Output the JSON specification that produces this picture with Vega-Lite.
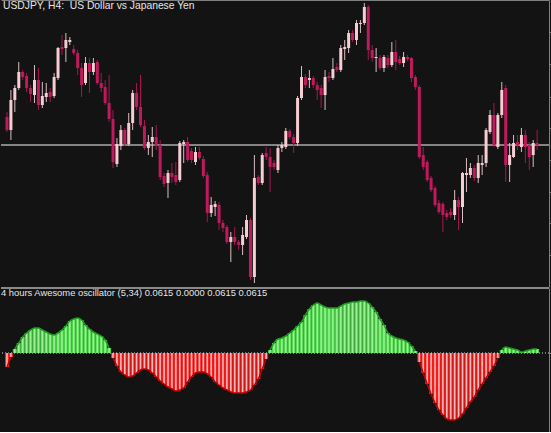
{
"$schema": "https://vega.github.io/schema/vega-lite/v6.json",
"background": "#131313",
"padding": 0,
"spacing": 0,
"config": {
  "view": {"stroke": null},
  "concat": {"spacing": 0},
  "axis": {"grid": false, "labels": false, "ticks": false, "title": null, "domainColor": "#7f7f7f", "domainWidth": 1},
  "title": {"anchor": "start", "color": "#e6e6e6", "fontWeight": "normal", "font": "Liberation Sans", "fontSize": 10, "baseline": "alphabetic", "offset": -11, "frame": "group"}
},
"datasets": {
"candles": [
{"i":0,"o":183,"h":188,"l":168,"c":170},{"i":1,"o":170,"h":210,"l":160,"c":200},{"i":2,"o":200,"h":215,"l":188,"c":212},{"i":3,"o":212,"h":238,"l":210,"c":228},{"i":4,"o":228,"h":230,"l":220,"c":223},{"i":5,"o":224,"h":227,"l":208,"c":212},{"i":6,"o":212,"h":215,"l":198,"c":206},{"i":7,"o":205,"h":235,"l":197,"c":220},{"i":8,"o":220,"h":232,"l":190,"c":195},{"i":9,"o":195,"h":218,"l":192,"c":204},
{"i":10,"o":203,"h":217,"l":198,"c":207},{"i":11,"o":208,"h":212,"l":198,"c":203},{"i":12,"o":204,"h":227,"l":202,"c":223},{"i":13,"o":222,"h":253,"l":220,"c":252},{"i":14,"o":253,"h":265,"l":245,"c":251},{"i":15,"o":252,"h":267,"l":238,"c":260},{"i":16,"o":258,"h":263,"l":255,"c":260},{"i":17,"o":251,"h":255,"l":245,"c":247},{"i":18,"o":247,"h":250,"l":225,"c":232},{"i":19,"o":232,"h":237,"l":203,"c":215},
{"i":20,"o":217,"h":243,"l":215,"c":237},{"i":21,"o":237,"h":242,"l":207,"c":228},{"i":22,"o":228,"h":242,"l":225,"c":237},{"i":23,"o":238,"h":240,"l":215,"c":217},{"i":24,"o":217,"h":227,"l":208,"c":212},{"i":25,"o":213,"h":220,"l":195,"c":197},{"i":26,"o":197,"h":225,"l":178,"c":181},{"i":27,"o":181,"h":190,"l":132,"c":138},{"i":28,"o":136,"h":162,"l":133,"c":156},{"i":29,"o":154,"h":175,"l":150,"c":170},
{"i":30,"o":170,"h":172,"l":154,"c":156},{"i":31,"o":156,"h":187,"l":154,"c":177},{"i":32,"o":177,"h":210,"l":170,"c":207},{"i":33,"o":207,"h":217,"l":190,"c":193},{"i":34,"o":193,"h":225,"l":173,"c":175},{"i":35,"o":174,"h":180,"l":150,"c":152},{"i":36,"o":152,"h":165,"l":145,"c":158},{"i":37,"o":158,"h":173,"l":143,"c":163},{"i":38,"o":163,"h":175,"l":150,"c":154},{"i":39,"o":155,"h":160,"l":120,"c":123},
{"i":40,"o":124,"h":127,"l":113,"c":116},{"i":41,"o":117,"h":130,"l":102,"c":127},{"i":42,"o":127,"h":137,"l":117,"c":123},{"i":43,"o":125,"h":138,"l":115,"c":118},{"i":44,"o":120,"h":159,"l":118,"c":157},{"i":45,"o":156,"h":160,"l":137,"c":158},{"i":46,"o":158,"h":163,"l":138,"c":140},{"i":47,"o":149,"h":152,"l":137,"c":140},{"i":48,"o":138,"h":153,"l":135,"c":148},{"i":49,"o":148,"h":153,"l":140,"c":142},
{"i":50,"o":141,"h":144,"l":122,"c":124},{"i":51,"o":125,"h":128,"l":78,"c":87},{"i":52,"o":87,"h":103,"l":83,"c":95},{"i":53,"o":93,"h":99,"l":84,"c":96},{"i":54,"o":95,"h":98,"l":70,"c":77},{"i":55,"o":77,"h":80,"l":68,"c":72},{"i":56,"o":73,"h":75,"l":56,"c":58},{"i":57,"o":58,"h":68,"l":38,"c":63},{"i":58,"o":63,"h":73,"l":55,"c":58},{"i":59,"o":58,"h":60,"l":50,"c":55},
{"i":60,"o":55,"h":73,"l":45,"c":65},{"i":61,"o":63,"h":85,"l":61,"c":80},{"i":62,"o":80,"h":82,"l":20,"c":23},{"i":63,"o":23,"h":145,"l":17,"c":122},{"i":64,"o":123,"h":125,"l":115,"c":117},{"i":65,"o":117,"h":147,"l":115,"c":145},{"i":66,"o":147,"h":153,"l":140,"c":143},{"i":67,"o":143,"h":152,"l":108,"c":133},{"i":68,"o":137,"h":140,"l":130,"c":133},{"i":69,"o":130,"h":155,"l":127,"c":152},
{"i":70,"o":152,"h":158,"l":148,"c":155},{"i":71,"o":153,"h":172,"l":151,"c":169},{"i":72,"o":169,"h":171,"l":161,"c":163},{"i":73,"o":163,"h":166,"l":147,"c":157},{"i":74,"o":157,"h":204,"l":154,"c":202},{"i":75,"o":202,"h":234,"l":200,"c":223},{"i":76,"o":223,"h":226,"l":212,"c":215},{"i":77,"o":220,"h":230,"l":212,"c":222},{"i":78,"o":222,"h":224,"l":212,"c":215},{"i":79,"o":215,"h":218,"l":200,"c":210},
{"i":80,"o":212,"h":215,"l":192,"c":205},{"i":81,"o":205,"h":230,"l":190,"c":223},{"i":82,"o":224,"h":228,"l":218,"c":222},{"i":83,"o":222,"h":242,"l":220,"c":231},{"i":84,"o":233,"h":237,"l":228,"c":230},{"i":85,"o":230,"h":255,"l":228,"c":252},{"i":86,"o":251,"h":260,"l":240,"c":253},{"i":87,"o":252,"h":270,"l":247,"c":267},{"i":88,"o":267,"h":270,"l":258,"c":260},{"i":89,"o":260,"h":280,"l":255,"c":277},
{"i":90,"o":276,"h":280,"l":267,"c":277},{"i":91,"o":277,"h":297,"l":275,"c":293},{"i":92,"o":293,"h":295,"l":240,"c":250},{"i":93,"o":250,"h":255,"l":238,"c":242},{"i":94,"o":242,"h":252,"l":228,"c":243},{"i":95,"o":242,"h":245,"l":230,"c":232},{"i":96,"o":232,"h":245,"l":228,"c":243},{"i":97,"o":242,"h":245,"l":232,"c":235},{"i":98,"o":235,"h":258,"l":233,"c":248},{"i":99,"o":248,"h":260,"l":230,"c":238},
{"i":100,"o":241,"h":244,"l":235,"c":237},{"i":101,"o":237,"h":248,"l":233,"c":243},{"i":102,"o":243,"h":245,"l":239,"c":241},{"i":103,"o":242,"h":243,"l":218,"c":222},{"i":104,"o":223,"h":225,"l":210,"c":213},{"i":105,"o":213,"h":215,"l":141,"c":143},{"i":106,"o":145,"h":153,"l":130,"c":133},{"i":107,"o":138,"h":140,"l":118,"c":120},{"i":108,"o":122,"h":124,"l":108,"c":110},{"i":109,"o":112,"h":114,"l":93,"c":95},
{"i":110,"o":97,"h":100,"l":86,"c":88},{"i":111,"o":96,"h":98,"l":68,"c":85},{"i":112,"o":87,"h":90,"l":80,"c":83},{"i":113,"o":88,"h":92,"l":82,"c":85},{"i":114,"o":85,"h":110,"l":80,"c":100},{"i":115,"o":100,"h":103,"l":70,"c":93},{"i":116,"o":93,"h":128,"l":77,"c":127},{"i":117,"o":125,"h":142,"l":108,"c":127},{"i":118,"o":125,"h":137,"l":122,"c":132},{"i":119,"o":132,"h":135,"l":119,"c":122},
{"i":120,"o":122,"h":145,"l":117,"c":137},{"i":121,"o":135,"h":145,"l":125,"c":137},{"i":122,"o":137,"h":172,"l":133,"c":170},{"i":123,"o":168,"h":190,"l":166,"c":185},{"i":124,"o":185,"h":197,"l":153,"c":155},{"i":125,"o":153,"h":187,"l":151,"c":185},{"i":126,"o":185,"h":218,"l":182,"c":210},{"i":127,"o":212,"h":215,"l":118,"c":135},{"i":128,"o":135,"h":157,"l":118,"c":145},{"i":129,"o":143,"h":165,"l":142,"c":157},
{"i":130,"o":158,"h":165,"l":150,"c":155},{"i":131,"o":153,"h":172,"l":148,"c":165},{"i":132,"o":165,"h":170,"l":137,"c":153},{"i":133,"o":155,"h":158,"l":130,"c":143},{"i":134,"o":145,"h":160,"l":133,"c":157},{"i":135,"o":157,"h":170,"l":150,"c":155}
],
"ao": [
{"i":0,"v":-14,"s":"a"},{"i":1,"v":-4,"s":"a"},{"i":2,"v":4,"s":"b"},{"i":3,"v":10,"s":"b"},{"i":4,"v":16,"s":"b"},{"i":5,"v":20,"s":"b"},{"i":6,"v":23,"s":"b"},{"i":7,"v":25,"s":"b"},{"i":8,"v":25,"s":"b"},{"i":9,"v":23,"s":"b"},
{"i":10,"v":21,"s":"b"},{"i":11,"v":19,"s":"b"},{"i":12,"v":18,"s":"b"},{"i":13,"v":20,"s":"b"},{"i":14,"v":23,"s":"b"},{"i":15,"v":27,"s":"b"},{"i":16,"v":32,"s":"b"},{"i":17,"v":34,"s":"b"},{"i":18,"v":35,"s":"b"},{"i":19,"v":33,"s":"b"},
{"i":20,"v":28,"s":"b"},{"i":21,"v":24,"s":"b"},{"i":22,"v":21,"s":"b"},{"i":23,"v":19,"s":"b"},{"i":24,"v":17,"s":"b"},{"i":25,"v":13,"s":"b"},{"i":26,"v":5,"s":"b"},{"i":27,"v":-5,"s":"c"},{"i":28,"v":-13,"s":"c"},{"i":29,"v":-19,"s":"c"},
{"i":30,"v":-22,"s":"c"},{"i":31,"v":-24,"s":"c"},{"i":32,"v":-23,"s":"c"},{"i":33,"v":-20,"s":"c"},{"i":34,"v":-17,"s":"c"},{"i":35,"v":-16,"s":"c"},{"i":36,"v":-17,"s":"c"},{"i":37,"v":-20,"s":"c"},{"i":38,"v":-24,"s":"c"},{"i":39,"v":-28,"s":"c"},
{"i":40,"v":-31,"s":"c"},{"i":41,"v":-34,"s":"c"},{"i":42,"v":-36,"s":"c"},{"i":43,"v":-38,"s":"c"},{"i":44,"v":-37,"s":"c"},{"i":45,"v":-35,"s":"c"},{"i":46,"v":-29,"s":"c"},{"i":47,"v":-24,"s":"c"},{"i":48,"v":-20,"s":"c"},{"i":49,"v":-19,"s":"c"},
{"i":50,"v":-19,"s":"c"},{"i":51,"v":-21,"s":"c"},{"i":52,"v":-24,"s":"c"},{"i":53,"v":-29,"s":"c"},{"i":54,"v":-32,"s":"c"},{"i":55,"v":-35,"s":"c"},{"i":56,"v":-37,"s":"c"},{"i":57,"v":-39,"s":"c"},{"i":58,"v":-40,"s":"c"},{"i":59,"v":-40,"s":"c"},
{"i":60,"v":-40,"s":"c"},{"i":61,"v":-39,"s":"c"},{"i":62,"v":-37,"s":"c"},{"i":63,"v":-32,"s":"c"},{"i":64,"v":-26,"s":"c"},{"i":65,"v":-16,"s":"c"},{"i":66,"v":-6,"s":"c"},{"i":67,"v":3,"s":"d"},{"i":68,"v":10,"s":"d"},{"i":69,"v":14,"s":"d"},
{"i":70,"v":15,"s":"d"},{"i":71,"v":17,"s":"d"},{"i":72,"v":20,"s":"d"},{"i":73,"v":23,"s":"d"},{"i":74,"v":27,"s":"d"},{"i":75,"v":31,"s":"d"},{"i":76,"v":38,"s":"d"},{"i":77,"v":44,"s":"d"},{"i":78,"v":48,"s":"d"},{"i":79,"v":50,"s":"d"},
{"i":80,"v":48,"s":"d"},{"i":81,"v":46,"s":"d"},{"i":82,"v":45,"s":"d"},{"i":83,"v":45,"s":"d"},{"i":84,"v":45,"s":"d"},{"i":85,"v":47,"s":"d"},{"i":86,"v":49,"s":"d"},{"i":87,"v":50,"s":"d"},{"i":88,"v":51,"s":"d"},{"i":89,"v":51,"s":"d"},
{"i":90,"v":52,"s":"d"},{"i":91,"v":52,"s":"d"},{"i":92,"v":50,"s":"d"},{"i":93,"v":46,"s":"d"},{"i":94,"v":41,"s":"d"},{"i":95,"v":34,"s":"d"},{"i":96,"v":28,"s":"d"},{"i":97,"v":20,"s":"d"},{"i":98,"v":17,"s":"d"},{"i":99,"v":15,"s":"d"},
{"i":100,"v":14,"s":"d"},{"i":101,"v":13,"s":"d"},{"i":102,"v":11,"s":"d"},{"i":103,"v":7,"s":"d"},{"i":104,"v":2,"s":"d"},{"i":105,"v":-9,"s":"e"},{"i":106,"v":-20,"s":"e"},{"i":107,"v":-31,"s":"e"},{"i":108,"v":-41,"s":"e"},{"i":109,"v":-50,"s":"e"},
{"i":110,"v":-57,"s":"e"},{"i":111,"v":-62,"s":"e"},{"i":112,"v":-66,"s":"e"},{"i":113,"v":-67,"s":"e"},{"i":114,"v":-67,"s":"e"},{"i":115,"v":-65,"s":"e"},{"i":116,"v":-61,"s":"e"},{"i":117,"v":-55,"s":"e"},{"i":118,"v":-49,"s":"e"},{"i":119,"v":-44,"s":"e"},
{"i":120,"v":-37,"s":"e"},{"i":121,"v":-31,"s":"e"},{"i":122,"v":-25,"s":"e"},{"i":123,"v":-19,"s":"e"},{"i":124,"v":-13,"s":"e"},{"i":125,"v":-5,"s":"e"},{"i":126,"v":3,"s":"f"},{"i":127,"v":6,"s":"f"},{"i":128,"v":5,"s":"f"},{"i":129,"v":4,"s":"f"},
{"i":130,"v":3,"s":"f"},{"i":131,"v":1,"s":"f"},{"i":132,"v":2,"s":"f"},{"i":133,"v":3,"s":"f"},{"i":134,"v":4,"s":"f"},{"i":135,"v":4,"s":"f"}
]
},
"vconcat": [
{
  "width": 548,
  "height": 287,
  "title": {"text": "USDJPY, H4:\u00a0 US Dollar vs Japanese Yen", "dx": 2, "fontSize": 10.3},
  "data": {"name": "candles"},
  "encoding": {
    "x": {"field": "i", "type": "quantitative", "scale": {"domain": [-0.25, 136.75], "nice": false, "zero": false}, "axis": {"orient": "top"}}
  },
  "layer": [
    {"mark": {"type": "rule", "color": "#858585", "strokeWidth": 1},
     "encoding": {"x": null, "y": {"datum": 155, "type": "quantitative"}}},
    {"mark": {"type": "rule", "strokeWidth": 1},
     "encoding": {
       "y": {"field": "l", "type": "quantitative", "scale": {"domain": [13, 300], "nice": false, "zero": false},
             "axis": {"orient": "right", "ticks": true, "tickSize": 3, "tickColor": "#7f7f7f", "values": [45, 77, 108, 140, 172, 203, 236, 268]}},
       "y2": {"field": "h"},
       "color": {"condition": {"test": "datum.c >= datum.o", "value": "#d9bfc3"}, "value": "#a8164f"}
     }},
    {"mark": {"type": "bar", "size": 3},
     "encoding": {
       "y": {"field": "o", "type": "quantitative"},
       "y2": {"field": "c"},
       "color": {"condition": {"test": "datum.c >= datum.o", "value": "#f6cdd3"}, "value": "#c01a5c"}
     }}
  ]
},
{
  "width": 548,
  "height": 144,
  "title": {"text": "4 hours Awesome oscillator (5,34) 0.0615 0.0000 0.0615 0.0615", "dx": 0, "fontSize": 9.4},
  "data": {"name": "ao"},
  "encoding": {
    "x": {"field": "i", "type": "quantitative", "scale": {"domain": [-0.25, 136.75], "nice": false, "zero": false}, "axis": {"orient": "bottom"}}
  },
  "layer": [
    {"mark": {"type": "rule", "color": "#8a8a8a", "strokeWidth": 2},
     "encoding": {"x": null, "y": {"datum": 65, "type": "quantitative"}}},
    {"mark": {"type": "rule", "color": "#7a7a7a", "strokeWidth": 1, "strokeDash": [1, 2]},
     "encoding": {"x": null, "y": {"datum": 0, "type": "quantitative"}}},
    {"mark": {"type": "bar", "size": 4},
     "encoding": {
       "y": {"field": "v", "type": "quantitative", "scale": {"domain": [-79, 65], "nice": false, "zero": false},
             "axis": {"orient": "right", "ticks": true, "tickSize": 3, "tickColor": "#7f7f7f", "values": [0]}},
       "y2": {"datum": 0},
       "color": {"condition": {"test": "datum.v >= 0", "value": "#4ccf48"}, "value": "#f41c1c"}
     }},
    {"mark": {"type": "bar", "size": 1.6},
     "encoding": {
       "y": {"field": "v", "type": "quantitative"},
       "y2": {"datum": 0},
       "color": {"condition": {"test": "datum.v >= 0", "value": "#98f294"}, "value": "#ffb9b9"}
     }},
    {"mark": {"type": "line", "strokeWidth": 1.5, "interpolate": "monotone"},
     "encoding": {
       "y": {"field": "v", "type": "quantitative"},
       "color": {"field": "s", "type": "nominal", "legend": null,
                 "scale": {"domain": ["a", "b", "c", "d", "e", "f"], "range": ["#c00000", "#1f9a1f", "#c00000", "#1f9a1f", "#c00000", "#1f9a1f"]}}
     }}
  ]
}
]
}
